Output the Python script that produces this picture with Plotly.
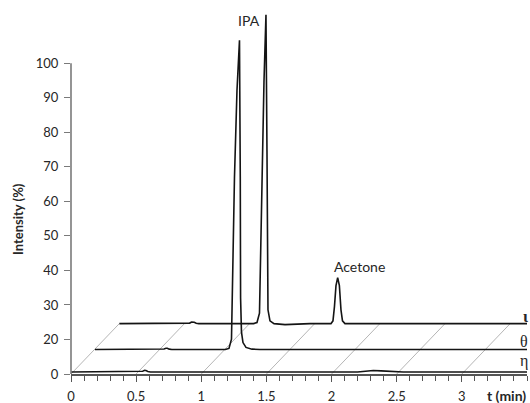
import plotly.graph_objects as go

# ---- data -------------------------------------------------------------
# Retention time (min) and detector signal (% of IPA peak scale) for each
# chromatogram, measured relative to that chromatogram's own baseline.
eta_t = [0.0, 0.53, 0.55, 0.565, 0.575, 0.59, 0.61, 2.2, 2.26, 2.32, 2.38, 2.46, 2.55, 3.6]
eta_s = [0.0, 0.0, 0.2, 0.45, 0.4, 0.1, 0.0, 0.0, 0.3, 0.4, 0.3, 0.1, 0.0, 0.0]

theta_t = [0.0, 0.51, 0.53, 0.545, 0.555, 0.57, 0.59, 1.0, 1.0286, 1.0478, 1.0554,
           1.0708, 1.09, 1.1092, 1.1153, 1.1176, 1.1245, 1.136, 1.1591, 1.2051,
           1.2665, 3.6]
theta_s = [0.0, 0.0, 0.15, 0.35, 0.35, 0.1, 0.0, 0.0, 0.3, 3.0, 20.0,
           50.0, 75.0, 89.6, 50.0, 15.0, 5.0, 2.0, 0.6, 0.1,
           0.0, 0.0]

iota_t = [0.0, 0.52, 0.54, 0.555, 0.565, 0.575, 0.59, 0.61, 1.03, 1.0565, 1.0757,
          1.0833, 1.0948, 1.1102, 1.1255, 1.1332, 1.1355, 1.1409, 1.1562, 1.187,
          1.2714, 1.4632, 1.6244, 1.6397, 1.6513, 1.6628, 1.6758, 1.6889, 1.7011,
          1.7127, 1.7318, 3.6]
iota_s = [0.0, 0.0, 0.15, 0.45, 0.5, 0.4, 0.1, 0.0, 0.0, 0.3, 3.0,
          15.0, 40.0, 70.0, 89.5, 50.0, 15.0, 4.0, 0.8, 0.0,
          -0.3, 0.0, 0.0, 0.8, 5.0, 11.0, 13.3, 11.0, 4.0,
          0.8, 0.0, 0.0]

series_names = ["η", "θ", "ι"]
series_t = [eta_t, theta_t, iota_t]
series_s = [eta_s, theta_s, iota_s]

# depth placement of each chromatogram in the stacked (pseudo 3-D) view
depth_dt = [0.0, 0.184, 0.371]      # horizontal shift, min
depth_dy = [0.6, 7.1, 14.6]         # vertical lift, axis units

peak_labels = ["IPA", "Acetone"]
peak_label_t = [1.366, 2.218]
peak_label_y = [112.4, 41.1]

x_tick_vals = [0, 0.5, 1, 1.5, 2, 2.5, 3]
x_tick_text = ["0", "0.5", "1", "1.5", "2", "2.5", "3"]
y_tick_vals = [10, 20, 30, 40, 50, 60, 70, 80, 90, 100]
y_tick_text = ["0", "20", "30", "40", "50", "60", "70", "80", "90", "100"]

FLOOR = 10          # level of the front edge of the stack (labelled 0)
X_MAX = 3.5
Y_MAX = 115.45

FONT = "Lato, 'Open Sans', sans-serif"
SERIF = "'Liberation Serif', 'DejaVu Serif', serif"
TXT = "#262626"
AXIS = "#7a7a7a"

fig = go.Figure()

# perspective floor: slanted guide lines from each major time tick
gx, gy = [], []
for t in x_tick_vals:
    gx += [t, t + depth_dt[-1], None]
    gy += [FLOOR, FLOOR + depth_dy[-1], None]
fig.add_trace(go.Scatter(x=gx, y=gy, mode="lines",
                         line=dict(color="#b5b5b5", width=1),
                         hoverinfo="skip", showlegend=False))

# chromatograms, back to front
for k in [2, 1, 0]:
    xs = [t + depth_dt[k] for t in series_t[k]]
    ys = [FLOOR + depth_dy[k] + s for s in series_s[k]]
    fig.add_trace(go.Scatter(x=xs, y=ys, mode="lines", name=series_names[k],
                             line=dict(color="#141414", width=1.6),
                             showlegend=False))

# y axis line only spans the labelled part of the scale
fig.add_shape(type="line", xref="paper", yref="y", x0=0, x1=0,
              y0=FLOOR, y1=100, line=dict(color=AXIS, width=1.6))

annotations = []
for lab, t, y in zip(peak_labels, peak_label_t, peak_label_y):
    annotations.append(dict(x=t, y=y, xref="x", yref="y", text=lab,
                            showarrow=False, xanchor="center", yanchor="middle",
                            font=dict(family=FONT, size=14, color=TXT)))

# series names at the right end of each baseline
name_offsets = [3.2, 2.4, 2.1]
name_text = ["η", "θ", "<b>ι</b>"]
for k in range(3):
    annotations.append(dict(x=1.006, xref="paper", y=FLOOR + depth_dy[k] + name_offsets[k],
                            yref="y", text=name_text[k], showarrow=False,
                            xanchor="right", yanchor="middle",
                            font=dict(family=SERIF, size=16, color=TXT)))

annotations.append(dict(x=-0.116, y=0.426, xref="paper", yref="paper",
                        text="<b>Intensity (%)</b>", textangle=-90, showarrow=False,
                        xanchor="center", yanchor="middle",
                        font=dict(family=FONT, size=13, color=TXT)))
annotations.append(dict(x=0.954, y=-0.06, xref="paper", yref="paper",
                        text="<b>t (min)</b>", showarrow=False,
                        xanchor="center", yanchor="middle",
                        font=dict(family=FONT, size=14, color=TXT)))

fig.update_layout(
    width=530, height=403, autosize=False,
    margin=dict(l=71, r=3, t=10, b=29, autoexpand=False),
    paper_bgcolor="white", plot_bgcolor="white",
    showlegend=False,
    annotations=annotations,
    xaxis=dict(range=[0, X_MAX], tickmode="array", tickvals=x_tick_vals,
               ticktext=x_tick_text, ticks="outside", ticklen=6, tickwidth=1.3,
               tickcolor="#555555", showline=True, linecolor="#555555", linewidth=1.6,
               showgrid=False, zeroline=False, ticklabelstandoff=4, automargin=False,
               tickfont=dict(family=FONT, size=13, color=TXT),
               minor=dict(dtick=0.1, tick0=0, ticks="outside", ticklen=5,
                          tickwidth=1.2, tickcolor="#555555", showgrid=False)),
    yaxis=dict(range=[FLOOR, Y_MAX], tickmode="array", tickvals=y_tick_vals,
               ticktext=y_tick_text, ticks="outside", ticklen=6, tickwidth=1.3,
               tickcolor=AXIS, showline=False, showgrid=False, zeroline=False,
               ticklabelstandoff=3, automargin=False,
               tickfont=dict(family=FONT, size=13, color=TXT)),
)

fig.write_html("out.html")
